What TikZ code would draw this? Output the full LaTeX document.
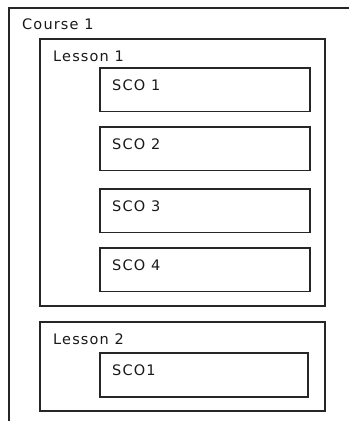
\documentclass[tikz,border=0pt]{standalone}
\usepackage{fontspec}
\setmainfont{DejaVu Sans}[LetterSpace=8]

\begin{document}
\begin{tikzpicture}[x=1pt,y=-1pt,line join=miter]
\tikzstyle{unitbox} = [draw,line width=1.1pt,black!85]
\tikzstyle{unittext} = [anchor=base west,inner sep=0pt,text=black!90,font=\fontsize{14.5}{16}\selectfont]

\useasboundingbox (0,0) rectangle (349,421);

% course, open to the right and below
\coordinate (C0) at (9,421);
\coordinate (C1) at (9,8);
\coordinate (C2) at (349,8);
\draw[unitbox] (C0) -- (C1) -- (C2);
\node[unittext] (course) at (22,29.5) {Course 1};

% lesson 1
\coordinate (L1a) at (40,39);
\coordinate (L1b) at (325,306);
\draw[unitbox] (L1a) rectangle (L1b);
\node[unittext] (lesson1) at (53,61) {Lesson 1};

\foreach \i/\y in {1/68,2/127,3/189,4/248} {
  \draw[unitbox] (100,\y) rectangle (310,\y+43.5);
  \node[unittext] (sco\i) at (112,\y+22.5) {SCO \i};
}

% lesson 2
\coordinate (L2a) at (40,322);
\coordinate (L2b) at (325,411);
\draw[unitbox] (L2a) rectangle (L2b);
\node[unittext] (lesson2) at (53,344) {Lesson 2};

\coordinate (S5a) at (100,353);
\coordinate (S5b) at (308,397);
\draw[unitbox] (S5a) rectangle (S5b);
\node[unittext] (sco5) at (112,375) {SCO1};

\end{tikzpicture}
\end{document}
